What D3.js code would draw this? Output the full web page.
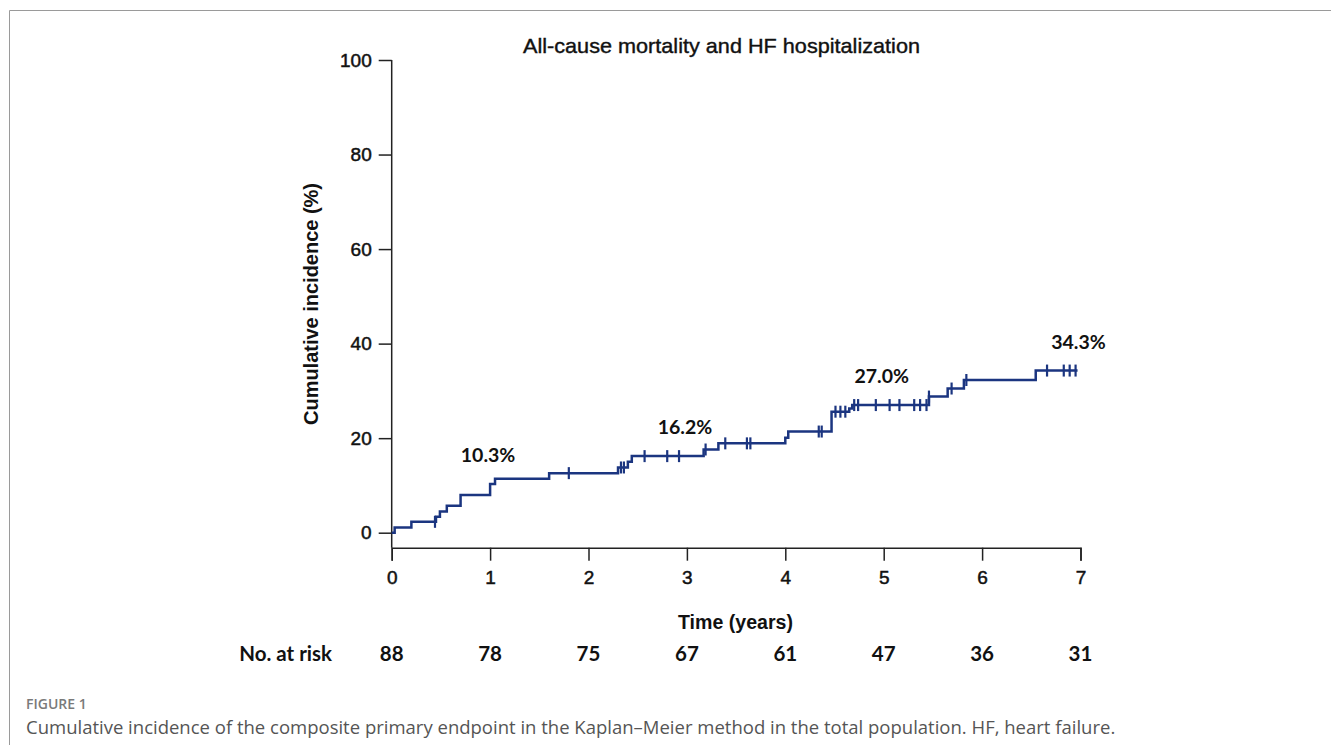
<!DOCTYPE html>
<html>
<head>
<meta charset="utf-8">
<script src="https://cdn.jsdelivr.net/npm/d3@7"></script>
<style>
  body { margin: 0; background: #fff; }
  svg { display: block; }
</style>
</head>
<body>
<div id="chart"></div>
<script>
(function () {

  // Step times (years) and cumulative incidence (%) after each step
  const stepTimes = [0, 0.03, 0.20, 0.45, 0.49, 0.56, 0.70, 1.00, 1.05, 1.60, 2.30, 2.40, 2.44, 3.17, 3.32, 4.00, 4.03, 4.47, 4.65, 4.68, 5.46, 5.65, 5.815, 6.545]
  const stepValues = [0, 1.1, 2.3, 3.4, 4.5, 5.7, 8.0, 10.3, 11.4, 12.6, 13.8, 15.0, 16.2, 17.6, 18.9, 20.1, 21.4, 25.6, 26.3, 27.0, 28.8, 30.5, 32.3, 34.3]
  const lastFollowUp = 6.97

  // Censored observations (years)
  const censorTimes = [0.44, 1.80, 2.33, 2.36, 2.57, 2.80, 2.92, 3.19, 3.39, 3.61, 3.645, 4.34, 4.37, 4.51, 4.56, 4.61, 4.70, 4.74, 4.92, 5.06, 5.16, 5.31, 5.37, 5.435, 5.46, 5.69, 5.84, 6.66, 6.83, 6.89, 6.95]

  // Annotated rates
  const labelYears = [1, 3, 5, 7]
  const labelTexts = ["10.3%", "16.2%", "27.0%", "34.3%"]
  const labelLevels = [10.3, 16.2, 27.0, 34.3]

  // Number at risk
  const riskYears = [0, 1, 2, 3, 4, 5, 6, 7]
  const riskCounts = [88, 78, 75, 67, 61, 47, 36, 31]

  const yTicks = [0, 20, 40, 60, 80, 100]

  const width = 1331
  const height = 745
  const lineColor = "#1b3580"

  const x = d3.scaleLinear().domain([0, 7]).range([391.7, 1080.5])
  const y = d3.scaleLinear().domain([0, 100]).range([532.7, 60])
  const axisY = 547.7

  const svg = d3.select("#chart").append("svg")
    .attr("width", width)
    .attr("height", height)

  // Frame
  svg.append("path")
    .attr("d", "M9.5,745 V10.5 H1331")
    .attr("fill", "none")
    .attr("stroke", "#9a9a9a")
    .attr("stroke-width", 1)

  // Title
  svg.append("text")
    .attr("x", 721.5)
    .attr("y", 53)
    .attr("text-anchor", "middle")
    .attr("textLength", 397)
    .attr("lengthAdjust", "spacingAndGlyphs")
    .style("font-family", "'Liberation Sans', Arial, sans-serif")
    .style("font-size", "21px")
    .style("stroke", "#111").style("stroke-width", 0.4)
    .attr("fill", "#111")
    .text("All-cause mortality and HF hospitalization")

  // y axis
  const yAxis = d3.axisLeft(y).tickValues(yTicks).tickSize(13).tickPadding(7)
  const gy = svg.append("g")
    .attr("transform", `translate(${x(0)},0)`)
    .call(yAxis)
  gy.select(".domain").remove()
  gy.selectAll(".tick line").attr("stroke", "#222").attr("stroke-width", 1.5)
  gy.selectAll(".tick text")
    .attr("fill", "#111")
    .style("font-family", "'Liberation Sans', Arial, sans-serif")
    .style("font-size", "19px")
    .style("stroke", "#111").style("stroke-width", 0.5)
  svg.append("line")
    .attr("x1", x(0)).attr("x2", x(0))
    .attr("y1", y(100)).attr("y2", axisY)
    .attr("stroke", "#222").attr("stroke-width", 1.5)

  // x axis
  const xAxis = d3.axisBottom(x).tickValues(riskYears).tickSize(13).tickPadding(10).tickFormat(d3.format("d"))
  const gx = svg.append("g")
    .attr("transform", `translate(0,${axisY})`)
    .call(xAxis)
  gx.select(".domain").attr("stroke", "#222").attr("stroke-width", 1.5)
  gx.selectAll(".tick line").attr("stroke", "#222").attr("stroke-width", 1.5)
  gx.selectAll(".tick text")
    .attr("fill", "#111")
    .style("font-family", "'Liberation Sans', Arial, sans-serif")
    .style("font-size", "19px")
    .style("stroke", "#111").style("stroke-width", 0.5)

  // Axis titles
  svg.append("text")
    .attr("transform", "translate(318,304) rotate(-90)")
    .attr("text-anchor", "middle")
    .attr("textLength", 242)
    .attr("lengthAdjust", "spacingAndGlyphs")
    .style("font-family", "'Liberation Sans', Arial, sans-serif")
    .style("font-size", "20px")
    .style("font-weight", "bold")
    .attr("fill", "#111")
    .text("Cumulative incidence (%)")

  svg.append("text")
    .attr("x", 735.5)
    .attr("y", 629)
    .attr("text-anchor", "middle")
    .attr("textLength", 115)
    .attr("lengthAdjust", "spacingAndGlyphs")
    .style("font-family", "'Liberation Sans', Arial, sans-serif")
    .style("font-size", "20px")
    .style("font-weight", "bold")
    .attr("fill", "#111")
    .text("Time (years)")

  // Kaplan-Meier step line
  const curve = stepTimes.map((t, i) => [t, stepValues[i]])
  curve.push([lastFollowUp, stepValues[stepValues.length - 1]])
  const line = d3.line()
    .x(d => x(d[0]))
    .y(d => y(d[1]))
    .curve(d3.curveStepAfter)
  svg.append("path")
    .datum(curve)
    .attr("d", line)
    .attr("fill", "none")
    .attr("stroke", lineColor)
    .attr("stroke-width", 2.5)

  // Censor marks
  const levelAt = t => {
    let v = 0
    stepTimes.forEach((s, i) => { if (s <= t) v = stepValues[i] })
    return v
  }
  svg.selectAll("line.censor")
    .data(censorTimes)
    .join("line")
    .attr("class", "censor")
    .attr("x1", d => x(d)).attr("x2", d => x(d))
    .attr("y1", d => y(levelAt(d)) - 6)
    .attr("y2", d => y(levelAt(d)) + 6)
    .attr("stroke", lineColor)
    .attr("stroke-width", 2.2)

  // Rate labels
  svg.selectAll("text.rate")
    .data(labelYears)
    .join("text")
    .attr("class", "rate")
    .attr("x", d => x(d) - 2)
    .attr("y", (d, i) => y(labelLevels[i]) - 22)
    .attr("text-anchor", "middle")
    .style("font-family", "Lato, 'Open Sans', sans-serif")
    .style("font-size", "19.5px")
    .style("font-weight", "bold")
    .attr("fill", "#111")
    .text((d, i) => labelTexts[i])

  // Number at risk row
  const riskFont = "Lato, 'Open Sans', sans-serif"
  svg.append("text")
    .attr("x", 332)
    .attr("y", 661)
    .attr("text-anchor", "end")
    .style("font-family", riskFont)
    .style("font-size", "20.5px")
    .style("font-weight", "bold")
    .attr("fill", "#111")
    .text("No. at risk")
  svg.selectAll("text.risk")
    .data(riskYears)
    .join("text")
    .attr("class", "risk")
    .attr("x", d => x(d))
    .attr("y", 661)
    .attr("text-anchor", "middle")
    .style("font-family", riskFont)
    .style("font-size", "20.5px")
    .style("font-weight", "bold")
    .attr("fill", "#111")
    .text((d, i) => riskCounts[i])

  // Caption
  svg.append("text")
    .attr("x", 26)
    .attr("y", 709)
    .style("font-family", "'Open Sans', sans-serif")
    .style("font-size", "14px")
    .style("font-weight", 600)
    .attr("fill", "#7a7a7a")
    .text("FIGURE 1")
  svg.append("text")
    .attr("x", 26)
    .attr("y", 734)
    .style("font-family", "'Open Sans', sans-serif")
    .style("font-size", "18.5px")
    .attr("fill", "#555")
    .text("Cumulative incidence of the composite primary endpoint in the Kaplan\u2013Meier method in the total population. HF, heart failure.")

})();
</script>
</body>
</html>
